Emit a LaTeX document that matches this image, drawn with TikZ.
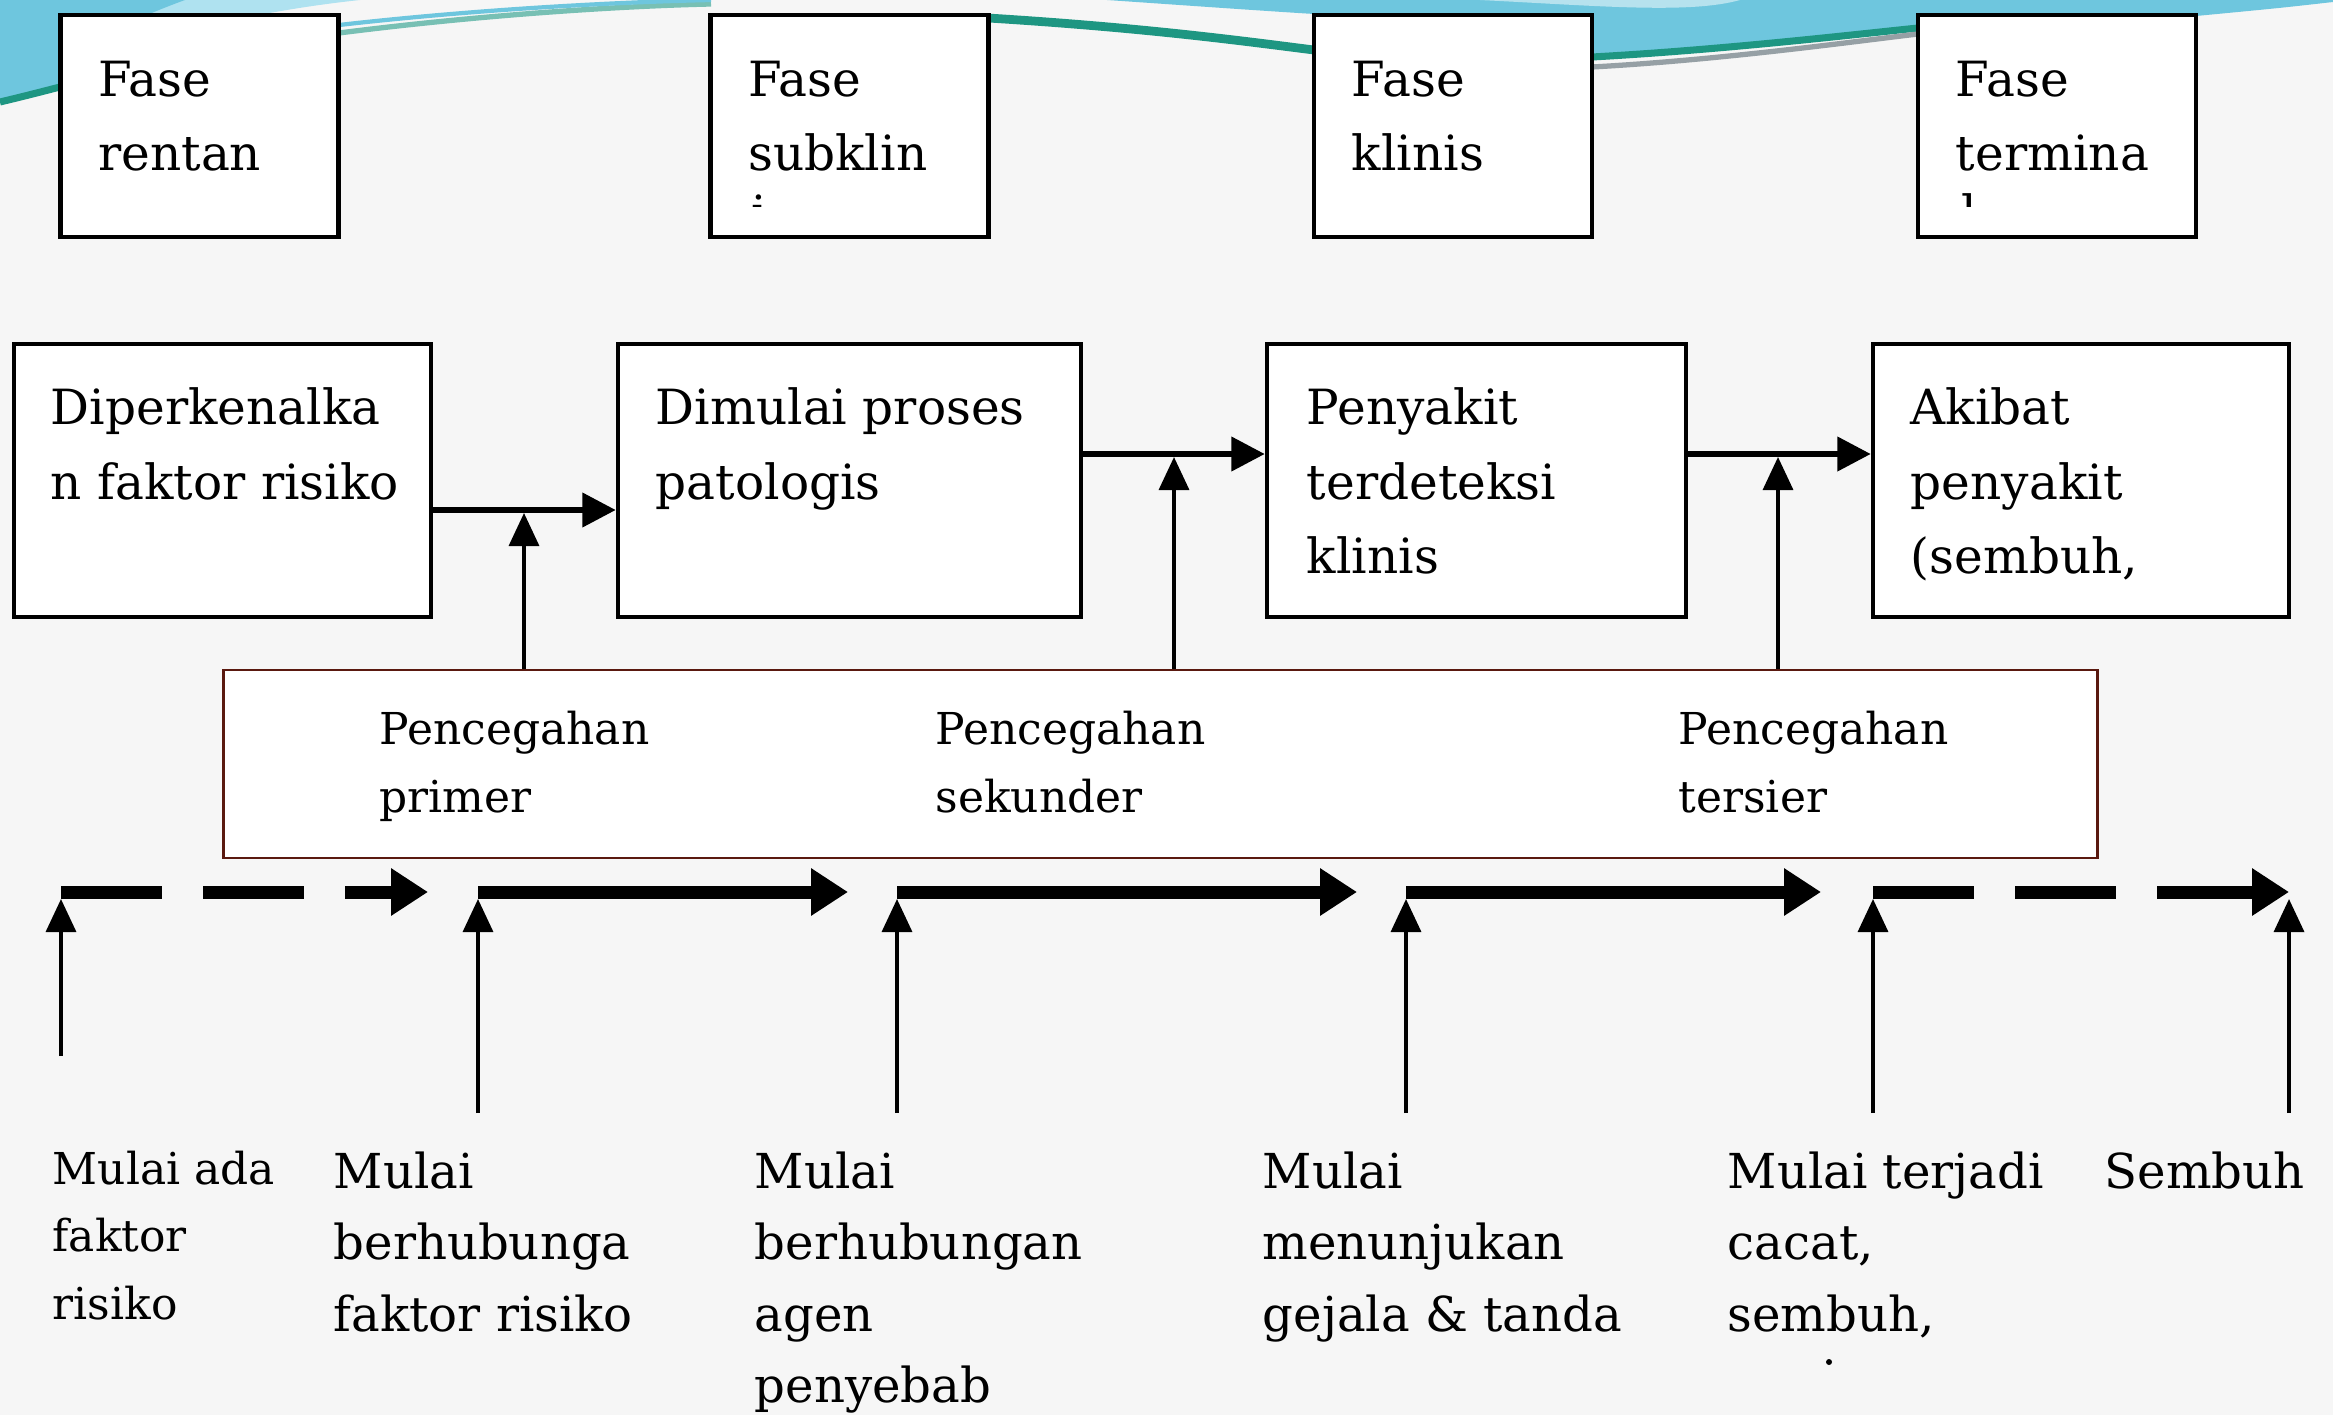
\documentclass[tikz,border=0pt]{standalone}
\usepackage{fontspec}
\setmainfont{DejaVu Serif}
\usepackage{tikz}
\usetikzlibrary{arrows.meta, positioning}
\definecolor{bgpaper}{RGB}{246,246,246}
\definecolor{swoosh}{RGB}{110,198,222}
\definecolor{swooshlight}{RGB}{175,226,240}
\definecolor{swline}{RGB}{30,150,130}
\definecolor{swgray}{RGB}{150,160,165}
\definecolor{prevred}{RGB}{90,25,15}

\begin{document}
\begin{tikzpicture}[
  x=0.01cm, y=-0.01cm,
  phase/.style={draw, line width=1.2pt, fill=white, minimum width=2.78cm, minimum height=2.22cm},
  stage/.style={draw, line width=1.2pt, fill=white, minimum height=2.73cm},
  boxtext/.style={font=\fontsize{13.8}{21.2}\selectfont, align=left, inner sep=0pt, outer sep=0pt},
  prevtext/.style={font=\fontsize{12.5}{19.4}\selectfont, align=left, inner sep=0pt, anchor=north west},
  eventtext/.style={font=\fontsize{13.7}{20.3}\selectfont, align=left, inner sep=0pt, anchor=north west},
  flow/.style={-{Triangle[length=9.5pt, width=9.5pt]}, line width=1.7pt},
  lift/.style={-{Triangle[length=9.4pt, width=8.5pt]}, line width=1.1pt},
  timeline/.style={-{Triangle[length=10.5pt, width=12.8pt]}, line width=3.7pt},
  gapped/.style={dash pattern=on 28.7pt off 11.7pt}
]
  % Slide background
  \fill[bgpaper] (0,0) rectangle (2333,1415);
  \useasboundingbox (0,0) rectangle (2333,1415);

  % Template swoosh
  \fill[swooshlight] (0,0) -- (360,0) .. controls (220,15) and (110,50) .. (60,80) -- (0,100) -- cycle;
  \fill[swoosh] (0,0) -- (185,0) .. controls (130,20) and (80,45) .. (60,70) -- (60,86) -- (0,100) -- cycle;
  \draw[swline, line width=2pt] (0,102) .. controls (25,96) .. (60,87);
  \draw[swline!60, line width=1.5pt] (339,33) .. controls (480,15) and (620,6) .. (711,4);
  \draw[swoosh, line width=1.2pt] (339,25) .. controls (480,9) and (620,2) .. (711,0);
  \fill[swoosh] (1107,0) -- (2333,0) -- (2333,2) .. controls (2280,8) .. (2196,16) -- (1918,27)
    .. controls (1800,38) and (1680,52) .. (1592,56) -- (1314,14) .. controls (1250,10) and (1180,5) .. (1107,0) -- cycle;
  \fill[white, opacity=0.5] (1480,0) .. controls (1600,6) and (1690,14) .. (1740,0) -- cycle;
  \draw[swline, line width=2.5pt] (988,18) .. controls (1150,28) and (1250,42) .. (1314,50);
  \draw[swline, line width=2pt] (1592,57) .. controls (1720,50) and (1850,35) .. (1918,28);
  \draw[swgray, line width=1.5pt] (1592,67) .. controls (1720,60) and (1850,42) .. (1918,34);

  % Phases
  \node[phase] (ph1) at (199.5,126) {};
  \node[phase] (ph2) at (849.5,126) {};
  \node[phase] (ph3) at (1453,126) {};
  \node[phase] (ph4) at (2057,126) {};
  \node[boxtext, below right=0.48cm and 0.40cm of ph1.north west] (ph1t) {Fase\\rentan};
  \node[boxtext, below right=0.48cm and 0.40cm of ph2.north west] (ph2t) {Fase\\subklin};
  \node[boxtext, below right=0.48cm and 0.40cm of ph3.north west] (ph3t) {Fase\\klinis};
  \node[boxtext, below right=0.48cm and 0.40cm of ph4.north west] (ph4t) {Fase\\termina};
  \begin{scope}
    \clip (700,185) rectangle (2190,206);
    \node[boxtext, anchor=base west] (ph2r) at (751,230) {i};
    \node[boxtext, anchor=base west] (ph4r) at (1961,230) {l};
  \end{scope}

  % Stages
  \node[stage, minimum width=4.17cm] (st1) at (222.5,480.5) {};
  \node[stage, minimum width=4.63cm] (st2) at (849.5,480.5) {};
  \node[stage, minimum width=4.19cm] (st3) at (1476.5,480.5) {};
  \node[stage, minimum width=4.16cm] (st4) at (2081,480.5) {};
  \node[boxtext, below right=0.46cm and 0.39cm of st1.north west] (st1t) {Diperkenalka\\n faktor risiko};
  \node[boxtext, below right=0.46cm and 0.40cm of st2.north west] (st2t) {Dimulai proses\\patologis};
  \node[boxtext, below right=0.46cm and 0.42cm of st3.north west] (st3t) {Penyakit\\terdeteksi\\klinis};
  \node[boxtext, below right=0.46cm and 0.40cm of st4.north west] (st4t) {Akibat\\penyakit\\(sembuh,};

  % Prevention
  \node[draw=prevred, line width=0.8pt, fill=white, minimum width=18.73cm, minimum height=1.88cm] (prev) at (1160.5,764) {};
  \node[prevtext] (pv1) at (379,710) {Pencegahan\\primer};
  \node[prevtext] (pv2) at (935,710) {Pencegahan\\sekunder};
  \node[prevtext] (pv3) at (1678,710) {Pencegahan\\tersier};

  % Arrows
  \coordinate (lv1) at (0,510);
  \coordinate (lv2) at (0,454);
  \coordinate (up1) at (524,513);
  \coordinate (up2) at (1174,457);
  \coordinate (up3) at (1778,457);
  \draw[flow] (st1.east |- lv1) -- (st2.west |- lv1);
  \draw[flow] (st2.east |- lv2) -- (st3.west |- lv2);
  \draw[flow] (st3.east |- lv2) -- (st4.west |- lv2);
  \draw[lift] (prev.north -| up1) -- (up1);
  \draw[lift] (prev.north -| up2) -- (up2);
  \draw[lift] (prev.north -| up3) -- (up3);

  % Timeline
  \coordinate (t0) at (61,892);
  \coordinate (t1) at (478,892);
  \coordinate (t2) at (897,892);
  \coordinate (t3) at (1406,892);
  \coordinate (t4) at (1873,892);
  \coordinate (t5) at (2289,892);
  \coordinate (e0) at (428,892);
  \coordinate (e1) at (848,892);
  \coordinate (e2) at (1357,892);
  \coordinate (e3) at (1821,892);
  \coordinate (tl) at (0,899);
  \coordinate (b0) at (61,1056);
  \coordinate (b1) at (478,1113);
  \coordinate (b2) at (897,1113);
  \coordinate (b3) at (1406,1113);
  \coordinate (b4) at (1873,1113);
  \coordinate (b5) at (2289,1113);
  \draw[timeline, gapped] (t0) -- (e0);
  \draw[timeline] (t1) -- (e1);
  \draw[timeline] (t2) -- (e2);
  \draw[timeline] (t3) -- (e3);
  \draw[timeline, gapped] (t4) -- (t5);
  \draw[lift] (b0) -- (b0 |- tl);
  \draw[lift] (b1) -- (b1 |- tl);
  \draw[lift] (b2) -- (b2 |- tl);
  \draw[lift] (b3) -- (b3 |- tl);
  \draw[lift] (b4) -- (b4 |- tl);
  \draw[lift] (b5) -- (b5 |- tl);

  % Events
  \node[eventtext, font=\fontsize{12.5}{19.2}\selectfont] (ev0) at (52,1150) {Mulai ada\\faktor\\risiko};
  \node[eventtext] (ev1) at (333,1151) {Mulai\\berhubunga\\faktor risiko};
  \node[eventtext] (ev2) at (754,1151) {Mulai\\berhubungan\\agen\\penyebab};
  \node[eventtext] (ev3) at (1262,1151) {Mulai\\menunjukan\\gejala \& tanda};
  \node[eventtext] (ev4) at (1727,1151) {Mulai terjadi\\cacat,\\sembuh,};
  \node[eventtext] (ev5) at (2104,1151) {Sembuh};
  \fill (1829,1362) circle[radius=0.3mm];
\end{tikzpicture}
\end{document}
